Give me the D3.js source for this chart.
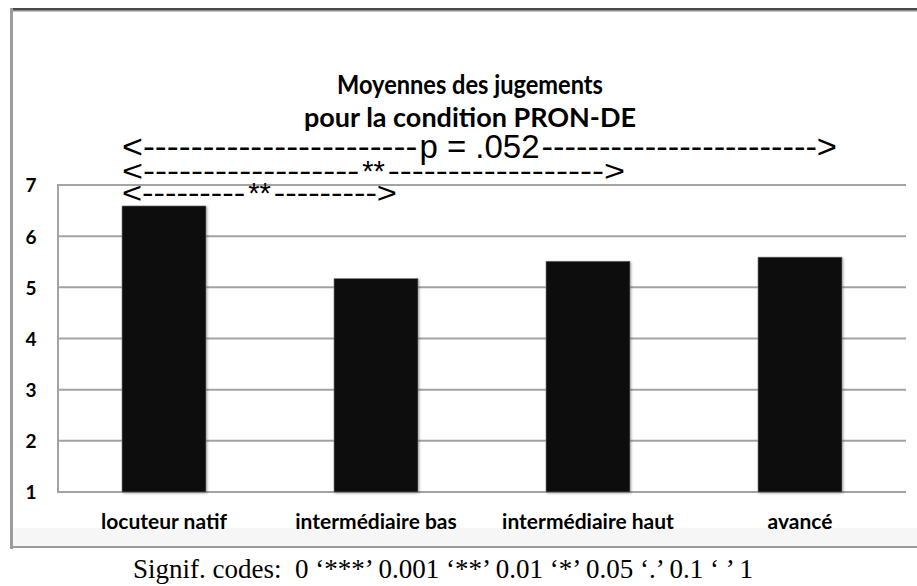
<!DOCTYPE html>
<html>
<head>
<meta charset="utf-8">
<script src="https://cdn.jsdelivr.net/npm/d3@7/dist/d3.min.js"></script>
<style>
  html, body { margin: 0; padding: 0; background: #ffffff; }
  svg { display: block; }
</style>
</head>
<body>
<svg id="chart" width="917" height="586"></svg>
<script>
// Mean judgements per proficiency group, PRON-DE condition
const categories = ["locuteur natif", "intermédiaire bas", "intermédiaire haut", "avancé"];
const means = [6.59, 5.17, 5.51, 5.59];
const yTicks = [1, 2, 3, 4, 5, 6, 7];
const titleLines = ["Moyennes des jugements", "pour la condition PRON-DE"];

// Pairwise comparisons drawn as text arrows above the bars
const compFrom = ["locuteur natif", "locuteur natif", "locuteur natif"];
const compTo = ["avancé", "intermédiaire haut", "intermédiaire bas"];
const compLabel = ["p = .052", "**", "**"];

const signifNote = "Signif. codes:  0 \u2018***\u2019 0.001 \u2018**\u2019 0.01 \u2018*\u2019 0.05 \u2018.\u2019 0.1 \u2018 \u2019 1";

const W = 917, H = 586;
const plot = { left: 58, right: 906, top: 185, bottom: 492 };

const svg = d3.select("#chart");

// Chart frame (window-like border and a faint band under the plot)
svg.append("rect").attr("x", 13).attr("y", 528).attr("width", W - 13).attr("height", 18).attr("fill", "#f6f6f6");
svg.append("rect").attr("x", 10).attr("y", 8).attr("width", W - 10).attr("height", 2).attr("fill", "#4a4a4a");
svg.append("rect").attr("x", 10).attr("y", 10).attr("width", W - 10).attr("height", 1).attr("fill", "#8a8a8a");
svg.append("rect").attr("x", 10).attr("y", 11).attr("width", W - 10).attr("height", 1).attr("fill", "#c4c4c4");
svg.append("rect").attr("x", 10).attr("y", 8).attr("width", 3).attr("height", 541).attr("fill", "#9c9c9c");
svg.append("rect").attr("x", 10).attr("y", 546).attr("width", W - 10).attr("height", 2).attr("fill", "#9c9c9c");

const x = d3.scaleBand()
  .domain(categories)
  .range([plot.left, plot.right])
  .paddingInner(0.604)
  .paddingOuter(0.302);

const y = d3.scaleLinear()
  .domain([1, 7])
  .range([plot.bottom, plot.top]);

// Horizontal gridlines
svg.append("g")
  .selectAll("line")
  .data(yTicks)
  .join("line")
  .attr("x1", plot.left)
  .attr("x2", plot.right)
  .attr("y1", d => y(d))
  .attr("y2", d => y(d))
  .attr("stroke", "#a3a3a3")
  .attr("stroke-width", 2);

// Left edge of the plot area
svg.append("line")
  .attr("x1", plot.left).attr("x2", plot.left)
  .attr("y1", y(7) - 1).attr("y2", y(1) + 1)
  .attr("stroke", "#a3a3a3")
  .attr("stroke-width", 2);

// Y axis labels
const yAxis = d3.axisLeft(y).tickValues(yTicks).tickSize(0).tickPadding(0).tickFormat(d3.format("d"));
const gy = svg.append("g").attr("transform", `translate(31,0)`).call(yAxis);
gy.select(".domain").remove();
gy.selectAll("text")
  .attr("text-anchor", "middle")
  .attr("dy", "0.36em")
  .attr("fill", "#000")
  .style("font-family", "Lato, 'Open Sans', sans-serif")
  .style("font-weight", "700")
  .style("font-size", "19px");

// Soft shadow for the bars
const defs = svg.append("defs");
const f = defs.append("filter").attr("id", "barShadow").attr("x", "-10%").attr("y", "-10%").attr("width", "120%").attr("height", "120%");
f.append("feGaussianBlur").attr("in", "SourceAlpha").attr("stdDeviation", 1.2).attr("result", "b");
f.append("feOffset").attr("in", "b").attr("dx", 0.5).attr("dy", 0.5).attr("result", "o");
f.append("feComponentTransfer").attr("in", "o").attr("result", "s")
  .append("feFuncA").attr("type", "linear").attr("slope", 0.35);
const fm = f.append("feMerge");
fm.append("feMergeNode").attr("in", "s");
fm.append("feMergeNode").attr("in", "SourceGraphic");

// Bars
svg.append("g")
  .selectAll("rect")
  .data(categories.map((c, i) => ({ c, v: means[i] })))
  .join("rect")
  .attr("x", d => x(d.c))
  .attr("y", d => y(d.v))
  .attr("width", x.bandwidth())
  .attr("height", d => y(1) - y(d.v))
  .attr("fill", "#0c0c0c")
  .attr("stroke", "#7a7a7a")
  .attr("stroke-width", 0.6)
  .attr("filter", "url(#barShadow)");

// Category labels
const xAxis = d3.axisBottom(x).tickSize(0).tickPadding(0);
const gx = svg.append("g").attr("transform", `translate(0,529)`).call(xAxis);
gx.select(".domain").remove();
gx.selectAll("text")
  .attr("dy", "0")
  .attr("fill", "#000")
  .style("font-family", "Lato, 'Open Sans', sans-serif")
  .style("font-weight", "700")
  .style("font-size", "21px");

// Title (two centred lines, slightly condensed)
const titleWidths = [266, 332];
svg.append("g")
  .style("font-family", "Lato, 'Open Sans', sans-serif")
  .style("font-weight", "700")
  .style("font-size", "27px")
  .attr("fill", "#000")
  .selectAll("text")
  .data(titleLines)
  .join("text")
  .attr("x", (d, i) => 470 - titleWidths[i] / 2)
  .attr("y", (d, i) => 94 + i * 33)
  .attr("textLength", (d, i) => titleWidths[i])
  .attr("lengthAdjust", "spacingAndGlyphs")
  .text(d => d);

// Text arrows: "<-----label----->" spanning the compared groups
const arrowFont = "'Liberation Sans', Arial, sans-serif";
const rowBaseline = [157.5, 180.5, 203];
const rowFont = [33, 29, 29];
const rowTrim = [5, 5, 21];
const rowDashes = [[23, 24], [18, 18], [9, 9]];
const labelPad = [2, 3, 3];

compLabel.forEach((lab, i) => {
  const start = x(compFrom[i]);
  const end = x(compTo[i]) + x.bandwidth() - rowTrim[i];
  const mid = (start + end) / 2;
  const g = svg.append("g")
    .style("font-family", arrowFont)
    .style("font-size", rowFont[i] + "px")
    .attr("fill", "#000");
  const lbl = g.append("text")
    .attr("x", mid)
    .attr("y", rowBaseline[i])
    .attr("text-anchor", "middle")
    .text(lab);
  const w = lbl.node().getComputedTextLength();
  const leftEnd = mid - w / 2 - labelPad[i];
  const rightStart = mid + w / 2 + labelPad[i];
  g.append("text")
    .attr("x", start)
    .attr("y", rowBaseline[i])
    .attr("textLength", leftEnd - start)
    .attr("lengthAdjust", "spacingAndGlyphs")
    .text("<" + "-".repeat(rowDashes[i][0]));
  g.append("text")
    .attr("x", rightStart)
    .attr("y", rowBaseline[i])
    .attr("textLength", end - rightStart)
    .attr("lengthAdjust", "spacingAndGlyphs")
    .text("-".repeat(rowDashes[i][1]) + ">");
});

// Significance legend below the chart
svg.append("text")
  .attr("x", 443)
  .attr("y", 578)
  .attr("text-anchor", "middle")
  .style("font-family", "'Liberation Serif', 'Times New Roman', serif")
  .style("font-size", "27px")
  .attr("fill", "#000")
  .attr("xml:space", "preserve")
  .text(signifNote);
</script>
</body>
</html>
